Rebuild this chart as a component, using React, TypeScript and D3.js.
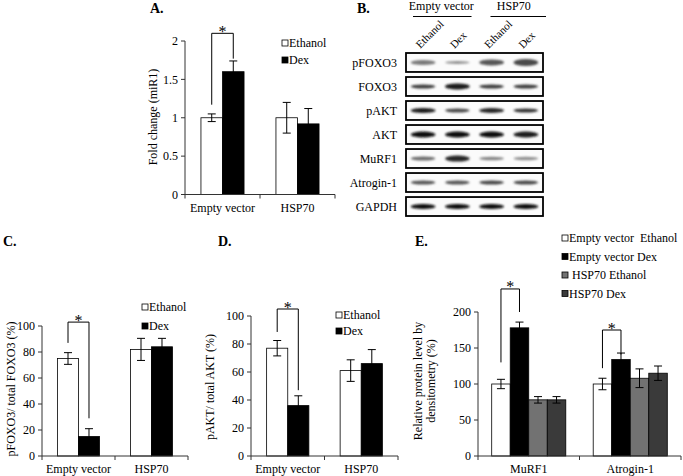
import React from "react";
import * as d3 from "d3";

const FONT = "'Liberation Serif','Times New Roman',serif";

// ---------- Panel A: Fold change (miR1)
const aCategories = ["Empty vector", "HSP70"];
const aSeries = ["Ethanol", "Dex"];
const aEthanol = [1.0, 1.0];
const aEthanolErr = [0.05, 0.2];
const aDex = [1.6, 0.92];
const aDexErr = [0.14, 0.2];
const aTicks = [0, 0.5, 1, 1.5, 2];
const aBrackets = [{ cat: 0, from: 0, to: 1, top: 2.1, leftEnd: 1.17, rightEnd: 1.77 }];

// ---------- Panel B: Western blot
const blotRows = ["pFOXO3", "FOXO3", "pAKT", "AKT", "MuRF1", "Atrogin-1", "GAPDH"];
const blotLanes = ["Ethanol", "Dex", "Ethanol", "Dex"];
const blotGroups = ["Empty vector", "HSP70"];
const bandIntensity = [
  [0.55, 0.45, 0.7, 0.75],
  [0.8, 0.95, 0.8, 0.8],
  [0.95, 0.75, 0.9, 0.85],
  [1.0, 1.0, 1.0, 0.95],
  [0.6, 0.9, 0.5, 0.45],
  [0.7, 0.7, 0.75, 0.75],
  [1.0, 1.0, 1.0, 1.0],
];
const bandThickness = [
  [5, 3, 6, 7],
  [4, 6, 4, 4],
  [5, 4, 5, 4],
  [6, 6, 6, 6],
  [4, 6, 3.5, 3.5],
  [4, 4, 4, 4],
  [5, 5, 5, 5],
];

// ---------- Panel C: pFOXO3 / total FOXO3
const cCategories = ["Empty vector", "HSP70"];
const cEthanol = [75, 82];
const cEthanolErr = [4.5, 8.5];
const cDex = [15, 84];
const cDexErr = [6, 6.5];
const cTicks = [0, 20, 40, 60, 80, 100];
const cBrackets = [{ cat: 0, from: 0, to: 1, top: 103, leftEnd: 87, rightEnd: 29 }];

// ---------- Panel D: pAKT / total AKT
const dCategories = ["Empty vector", "HSP70"];
const dEthanol = [77, 61];
const dEthanolErr = [5.5, 7.7];
const dDex = [36, 66];
const dDexErr = [7, 10];
const dTicks = [0, 20, 40, 60, 80, 100];
const dBrackets = [{ cat: 0, from: 0, to: 1, top: 105, leftEnd: 88.6, rightEnd: 47 }];

// ---------- Panel E: Relative protein level
const eCategories = ["MuRF1", "Atrogin-1"];
const eSeries = ["Empty vector  Ethanol", "Empty vector Dex", " HSP70 Ethanol", "HSP70 Dex"];
const eEVEthanol = [100, 100];
const eEVEthanolErr = [6.5, 8];
const eEVDex = [178, 134];
const eEVDexErr = [8, 9];
const eHSPEthanol = [78, 108];
const eHSPEthanolErr = [4.5, 13];
const eHSPDex = [78, 115];
const eHSPDexErr = [4.5, 10];
const eTicks = [0, 50, 100, 150, 200];
const eBrackets = [
  { cat: 0, from: 0, to: 1, top: 232, leftEnd: 130, rightEnd: 200 },
  { cat: 1, from: 0, to: 1, top: 175, leftEnd: 122, rightEnd: 141 },
];

const WHITE = "#ffffff";
const BLACK = "#000000";
const GRAY = "#727272";
const DARK = "#3a3a3a";

type Series = { name: string; fill: string; values: number[]; errors: number[] };
type Bracket = { cat: number; from: number; to: number; top: number; leftEnd: number; rightEnd: number };

function BarChart(props: {
  left: number; right: number; yTop: number; yBottom: number; max: number;
  ticks: number[]; categories: string[]; series: Series[]; brackets: Bracket[];
}) {
  const { left, right, yTop, yBottom, max, ticks, categories, series, brackets } = props;
  const x0 = d3.scaleBand<string>().domain(categories).range([left, right]);
  const x1 = d3.scaleBand<number>().domain(series.map((_, i) => i)).range([0, x0.bandwidth()]).paddingOuter(0.74);
  const y = d3.scaleLinear().domain([0, max]).range([yBottom, yTop]);
  const cx = (ci: number, si: number) => (x0(categories[ci]) as number) + (x1(si) as number) + x1.bandwidth() / 2;
  const bounds = [left, ...categories.map((c) => (x0(c) as number) + x0.bandwidth())];
  const axisColor = "#333";
  return (
    <g fontFamily={FONT} fontSize={12}>
      {series.map((s, si) =>
        categories.map((c, ci) => (
          <rect key={`b${si}-${ci}`} x={(x0(c) as number) + (x1(si) as number)} y={y(s.values[ci])}
            width={x1.bandwidth()} height={y(0) - y(s.values[ci])} fill={s.fill} stroke="#000" strokeWidth={0.8} />
        ))
      )}
      {series.map((s, si) =>
        categories.map((c, ci) => {
          const x = cx(ci, si);
          const hi = y(s.values[ci] + s.errors[ci]);
          const lo = y(s.values[ci] - s.errors[ci]);
          return (
            <g key={`e${si}-${ci}`} stroke="#000" strokeWidth={1}>
              <line x1={x} x2={x} y1={hi} y2={lo} />
              <line x1={x - 4} x2={x + 4} y1={hi} y2={hi} />
              <line x1={x - 4} x2={x + 4} y1={lo} y2={lo} />
            </g>
          );
        })
      )}
      <line x1={left} x2={left} y1={y(0)} y2={y(max)} stroke={axisColor} />
      <line x1={left} x2={right} y1={y(0)} y2={y(0)} stroke={axisColor} />
      {ticks.map((t) => (
        <g key={`t${t}`}>
          <line x1={left - 4} x2={left} y1={y(t)} y2={y(t)} stroke={axisColor} />
          <text x={left - 7} y={y(t)} dy="0.35em" textAnchor="end">{t}</text>
        </g>
      ))}
      {bounds.map((b, i) => (
        <line key={`xb${i}`} x1={b} x2={b} y1={y(0)} y2={y(0) + 4} stroke={axisColor} />
      ))}
      {categories.map((c) => (
        <text key={`c${c}`} x={(x0(c) as number) + x0.bandwidth() / 2} y={yBottom + 17} textAnchor="middle">{c}</text>
      ))}
      {brackets.map((br, i) => {
        const xl = cx(br.cat, br.from);
        const xr = cx(br.cat, br.to);
        return (
          <g key={`br${i}`}>
            <path d={`M${xl},${y(br.leftEnd)}V${y(br.top)}H${xr}V${y(br.rightEnd)}`} fill="none" stroke="#000" strokeWidth={1} />
            <text x={(xl + xr) / 2} y={y(br.top) + 3.5} textAnchor="middle" fontSize={16} fill="#000">*</text>
          </g>
        );
      })}
    </g>
  );
}

function Legend(props: { x: number; y: number; step: number; items: { name: string; fill: string }[] }) {
  const { x, y, step, items } = props;
  return (
    <g fontFamily={FONT} fontSize={12}>
      {items.map((it, i) => (
        <g key={i}>
          <rect x={x} y={y + i * step - 7} width={6} height={6} fill={it.fill} stroke="#000" strokeWidth={0.8} />
          <text x={x + 7} y={y + i * step} style={{ whiteSpace: "pre" }}>{it.name}</text>
        </g>
      ))}
    </g>
  );
}

function Blot() {
  const left = 406, right = 543, top = 53, bottom = 216;
  const rowScale = d3.scaleBand<string>().domain(blotRows).range([top, bottom]).paddingInner(0.21).paddingOuter(0);
  const laneScale = d3.scaleBand<number>().domain(blotLanes.map((_, i) => i)).range([left, right]);
  const groupScale = d3.scaleBand<string>().domain(blotGroups).range([left, right]);
  const laneX = (i: number) => (laneScale(i) as number) + laneScale.bandwidth() / 2;
  const grey = (v: number) => {
    const g = Math.round(235 * (1 - v) + 15);
    return `rgb(${g},${g},${g})`;
  };
  return (
    <g fontFamily={FONT} fontSize={12}>
      <defs>
        <filter id="blur" x="-20%" y="-100%" width="140%" height="300%">
          <feGaussianBlur stdDeviation="1.1 0.9" />
        </filter>
      </defs>
      {blotGroups.map((g, gi) => {
        const gx = groupScale(g) as number;
        const gw = groupScale.bandwidth();
        return (
          <g key={g}>
            <text x={gx + gw / 2 + (gi === 0 ? 1 : 5)} y={10} textAnchor="middle">{g}</text>
            <line x1={gx + (gi === 0 ? 7 : 16)} x2={gx + gw + (gi === 0 ? -3 : 3)} y1={16.5} y2={16.5} stroke="#000" strokeWidth={1.2} />
          </g>
        );
      })}
      {blotLanes.map((l, i) => (
        <text key={`ln${i}`} transform={`translate(${laneX(i) - 3},${49}) rotate(-45)`} fontSize={11}>{l}</text>
      ))}
      {blotRows.map((r, ri) => {
        const ry = rowScale(r) as number;
        const h = rowScale.bandwidth();
        return (
          <g key={r}>
            <text x={397} y={ry + h / 2} dy="0.35em" textAnchor="end">{r}</text>
            <rect x={left} y={ry} width={right - left} height={h} fill="#fbfbfb" stroke="#000" strokeWidth={1.8} />
            <g filter="url(#blur)">
              {blotLanes.map((_, li) => (
                <ellipse key={li} cx={laneX(li)} cy={ry + h / 2} rx={laneScale.bandwidth() * 0.36}
                  ry={bandThickness[ri][li] / 2} fill={grey(bandIntensity[ri][li])} />
              ))}
            </g>
          </g>
        );
      })}
    </g>
  );
}

function PanelLabel(props: { x: number; y: number; text: string }) {
  return <text x={props.x} y={props.y} fontFamily={FONT} fontSize={14} fontWeight="bold">{props.text}</text>;
}

function YTitle(props: { x: number; y: number; lines: string[] }) {
  return (
    <text transform={`translate(${props.x},${props.y}) rotate(-90)`} fontFamily={FONT} fontSize={12} textAnchor="middle">
      {props.lines.map((l, i) => (
        <tspan key={i} x={0} dy={i === 0 ? 0 : 13}>{l}</tspan>
      ))}
    </text>
  );
}

export default function App() {
  const abSeries: Series[] = [
    { name: aSeries[0], fill: WHITE, values: aEthanol, errors: aEthanolErr },
    { name: aSeries[1], fill: BLACK, values: aDex, errors: aDexErr },
  ];
  const cSeries: Series[] = [
    { name: aSeries[0], fill: WHITE, values: cEthanol, errors: cEthanolErr },
    { name: aSeries[1], fill: BLACK, values: cDex, errors: cDexErr },
  ];
  const dSeries: Series[] = [
    { name: aSeries[0], fill: WHITE, values: dEthanol, errors: dEthanolErr },
    { name: aSeries[1], fill: BLACK, values: dDex, errors: dDexErr },
  ];
  const eFills = [WHITE, BLACK, GRAY, DARK];
  const eVals = [eEVEthanol, eEVDex, eHSPEthanol, eHSPDex];
  const eErrs = [eEVEthanolErr, eEVDexErr, eHSPEthanolErr, eHSPDexErr];
  const eSer: Series[] = eSeries.map((n, i) => ({ name: n, fill: eFills[i], values: eVals[i], errors: eErrs[i] }));
  const twoLegend = [{ name: aSeries[0], fill: WHITE }, { name: aSeries[1], fill: BLACK }];

  return (
    <svg width={683} height={476} style={{ position: "absolute", left: 0, top: 0, background: "#fff" }}>
      <rect width={683} height={476} fill="#fff" />
      <PanelLabel x={150} y={13} text="A." />
      <BarChart left={185} right={335} yTop={41} yBottom={194.5} max={2} ticks={aTicks}
        categories={aCategories} series={abSeries} brackets={aBrackets} />
      <Legend x={282} y={47} step={17} items={twoLegend} />
      <YTitle x={157} y={117} lines={["Fold change (miR1)"]} />
      <PanelLabel x={357} y={13} text="B." />
      <Blot />
      <PanelLabel x={3} y={246} text="C." />
      <BarChart left={42} right={188} yTop={326} yBottom={456} max={100} ticks={cTicks}
        categories={cCategories} series={cSeries} brackets={cBrackets} />
      <Legend x={142} y={311} step={19} items={twoLegend} />
      <YTitle x={15} y={389} lines={["pFOXO3/ total FOXO3 (%)"]} />
      <PanelLabel x={218} y={246} text="D." />
      <BarChart left={251} right={398} yTop={316} yBottom={456} max={100} ticks={dTicks}
        categories={dCategories} series={dSeries} brackets={dBrackets} />
      <Legend x={336} y={319} step={16} items={twoLegend} />
      <YTitle x={214} y={387} lines={["pAKT/ total AKT (%)"]} />
      <PanelLabel x={415} y={246} text="E." />
      <BarChart left={478} right={681} yTop={312} yBottom={456} max={200} ticks={eTicks}
        categories={eCategories} series={eSer} brackets={eBrackets} />
      <Legend x={562} y={242} step={18.5} items={eSer.map((s) => ({ name: s.name, fill: s.fill }))} />
      <YTitle x={422} y={381} lines={["Relative protein level by", "densitometry (%)"]} />
    </svg>
  );
}
